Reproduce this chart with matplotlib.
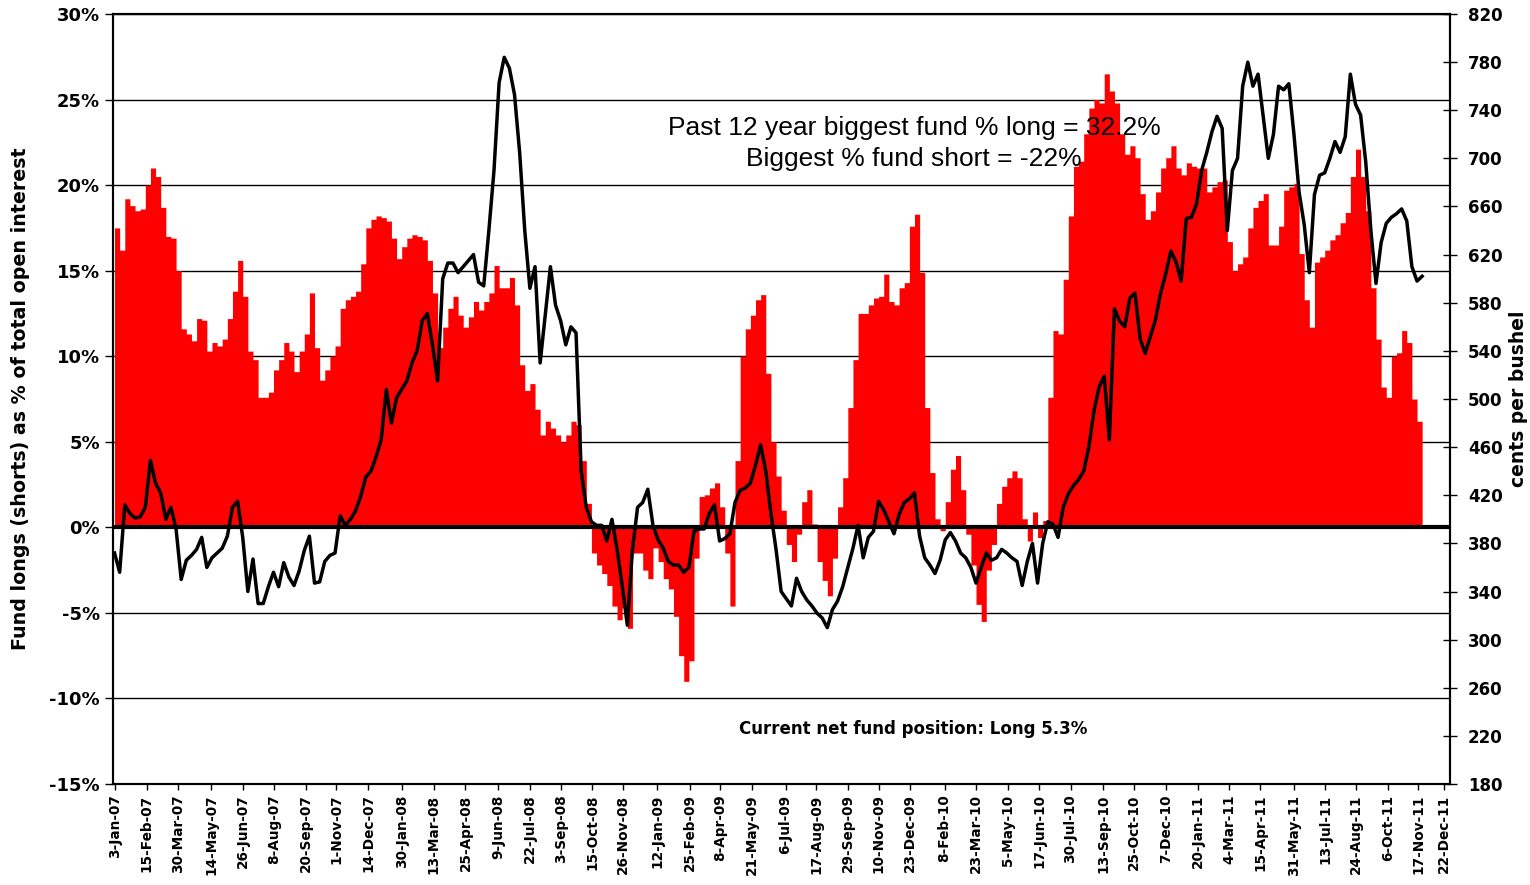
import matplotlib.pyplot as plt
import matplotlib.ticker as mticker
import pandas as pd

plt.rcParams['font.family'] = ['Liberation Sans', 'DejaVu Sans']

# weekly data, first week 2-Jan-2007
week_start = '2007-01-02'

# net fund position, % of open interest (red area)
net_pct = [
    17.5, 16.2, 19.2, 18.8, 18.5, 18.6, 20.0, 21.0, 20.5, 18.7,
    17.0, 16.9, 15.0, 11.6, 11.3, 10.9, 12.2, 12.1, 10.3, 10.8,
    10.6, 11.0, 12.2, 13.8, 15.6, 13.5, 10.3, 9.8, 7.6, 7.6,
    7.9, 9.2, 9.8, 10.8, 10.3, 9.1, 10.3, 11.3, 13.7, 10.5,
    8.6, 9.2, 10.0, 10.6, 12.8, 13.3, 13.5, 13.8, 15.4, 17.5,
    18.0, 18.2, 18.1, 17.9, 16.9, 15.7, 16.4, 16.9, 17.1, 17.0,
    16.8, 15.6, 13.7, 10.5, 11.7, 12.8, 13.5, 12.4, 11.7, 12.3,
    13.2, 12.7, 13.2, 13.7, 15.3, 14.0, 14.0, 14.6, 13.0, 9.5,
    8.0, 8.4, 6.9, 5.4, 6.2, 5.8, 5.4, 5.0, 5.4, 6.2,
    6.0, 3.9, 1.4, -1.5, -2.2, -2.7, -3.4, -4.6, -5.4, -4.7,
    -5.9, -1.5, -1.5, -2.5, -3.0, -1.2, -2.0, -3.0, -3.6, -5.2,
    -7.5, -9.0, -7.8, -1.8, 1.8, 1.9, 2.3, 2.6, 1.2, -1.5,
    -4.6, 3.9, 10.0, 11.6, 12.4, 13.3, 13.6, 9.0, 5.0, 3.0,
    1.0, -1.0, -2.0, -0.4, 1.5, 2.2, 0.2, -2.0, -3.1, -4.0,
    -1.8, 1.2, 2.9, 7.0, 9.8, 12.5, 12.5, 13.0, 13.4, 13.5,
    14.8, 13.2, 13.0, 14.0, 14.3, 17.6, 18.3, 14.9, 7.0, 3.2,
    0.5, -0.2, 1.5, 3.4, 4.2, 2.2, -0.4, -2.2, -4.5, -5.5,
    -2.5, -1.0, 1.4, 2.4, 2.9, 3.3, 2.9, 0.5, -0.8, 0.9,
    -0.6, 0.4, 7.6, 11.5, 11.3, 14.5, 18.2, 21.1, 21.4, 23.0,
    24.5, 25.0, 24.8, 26.5, 25.5, 24.8, 23.0, 21.8, 22.3, 21.6,
    19.5, 18.0, 18.5, 19.6, 21.0, 21.6, 22.3, 21.0, 20.6, 21.3,
    21.1, 21.0, 21.0, 19.6, 19.9, 20.2, 20.3, 16.7, 15.0, 15.4,
    15.8, 17.5, 18.7, 19.1, 19.5, 16.5, 16.5, 17.6, 19.7, 19.9,
    20.1, 16.0, 13.3, 11.7, 15.5, 15.8, 16.2, 16.8, 17.1, 17.8,
    18.4, 20.5, 22.1, 20.5, 18.5, 14.0, 11.0, 8.2, 7.6, 10.0,
    10.2, 11.5, 10.8, 7.5, 6.2, 5.3,
]

# price, cents per bushel (black line)
price = [
    372, 356, 412, 405, 401, 402, 410, 449, 430, 422,
    400, 410, 392, 350, 366, 370, 375, 385, 360, 368,
    372, 376, 386, 410, 415, 385, 340, 367, 330, 330,
    344, 356, 344, 364, 352, 345, 357, 374, 386, 347,
    348, 365, 370, 372, 403, 395, 400, 407, 419, 435,
    440, 452, 466, 508, 480, 501, 508, 515, 530, 540,
    565, 571, 545, 515, 600, 613, 613, 605, 610, 615,
    620, 597, 594, 640, 690, 763, 784, 775, 753, 705,
    640, 592, 610, 530, 570, 610, 578, 565, 545, 560,
    555, 440, 410, 398, 395, 395, 382, 400, 375, 345,
    312, 375, 410, 414, 425, 395, 383, 376, 365, 362,
    362, 356, 360, 390, 392, 392, 405, 412, 382, 384,
    388, 414, 424, 426, 430, 445, 462, 440, 405, 375,
    340, 334, 328, 351, 340, 333, 328, 322, 318, 310,
    325, 332, 344, 360, 376, 395, 368, 385, 390, 415,
    408, 398, 388, 404, 414, 417, 422, 386, 368, 362,
    355, 366, 383, 389, 382, 372, 368, 360, 347, 360,
    372, 366, 368, 375, 372, 368, 365, 345, 365, 380,
    347, 380, 398, 396, 385, 410, 421, 428, 433, 440,
    460, 490, 510, 519, 466, 575, 565, 560, 584, 588,
    550, 538, 552, 566, 588, 604, 623, 614, 598, 650,
    651, 662, 690, 705, 722, 735, 725, 640, 690, 700,
    760, 780, 760, 770, 735, 700, 720, 760, 757, 762,
    720, 672, 645, 605, 670, 686, 688, 700, 714, 705,
    718, 770, 745, 736, 697, 640, 596, 630, 646, 651,
    654, 658, 648, 610, 598, 602,
]

tick_labels = [
    '3-Jan-07', '15-Feb-07', '30-Mar-07', '14-May-07', '26-Jun-07', '8-Aug-07',
    '20-Sep-07', '1-Nov-07', '14-Dec-07', '30-Jan-08', '13-Mar-08', '25-Apr-08',
    '9-Jun-08', '22-Jul-08', '3-Sep-08', '15-Oct-08', '26-Nov-08', '12-Jan-09',
    '25-Feb-09', '8-Apr-09', '21-May-09', '6-Jul-09', '17-Aug-09', '29-Sep-09',
    '10-Nov-09', '23-Dec-09', '8-Feb-10', '23-Mar-10', '5-May-10', '17-Jun-10',
    '30-Jul-10', '13-Sep-10', '25-Oct-10', '7-Dec-10', '20-Jan-11', '4-Mar-11',
    '15-Apr-11', '31-May-11', '13-Jul-11', '24-Aug-11', '6-Oct-11', '17-Nov-11',
    '22-Dec-11',
]

dates = pd.date_range(week_start, periods=len(net_pct), freq='7D')
tick_dates = pd.to_datetime(tick_labels, format='%d-%b-%y')

wide = ['DejaVu Sans']

fig = plt.figure(figsize=(15.3, 8.85), dpi=100)
ax = fig.add_axes([0.0739, 0.1141, 0.8738, 0.8701])

ax.fill_between(dates, net_pct, 0, step='post', color='#ff0000', lw=0, zorder=2)
ax.axhline(0, color='black', lw=3, zorder=3)

ax.set_ylim(-15, 30)
ax.set_yticks(range(-15, 31, 5))
ax.yaxis.set_major_formatter(mticker.FuncFormatter(lambda v, p: f'{v:.0f}%'))
ax.grid(axis='y', color='black', lw=1)
ax.set_axisbelow(True)

ax.set_xlim(pd.Timestamp('2006-12-31'), pd.Timestamp('2011-12-30'))
ax.set_xticks(tick_dates)
ax.set_xticklabels(tick_labels, rotation=90, fontsize=9.8, fontweight='bold', family=wide)
ax.tick_params(axis='x', length=4, width=1)
ax.tick_params(axis='y', labelsize=13, length=6, width=1)
for lbl in ax.get_yticklabels():
    lbl.set_fontweight('bold')
    lbl.set_family(wide)
for s in ax.spines.values():
    s.set_linewidth(1.5)

ax.set_ylabel('Fund longs (shorts) as % of total open interest', fontsize=13.7,
              fontweight='bold', family=wide, va='center')
ax.yaxis.set_label_coords(-0.0696, 0.5)

ax2 = ax.twinx()
ax2.plot(dates, price, color='black', lw=2.5, zorder=5)
ax2.set_ylim(180, 820)
ax2.set_yticks(range(180, 821, 40))
ax2.tick_params(axis='y', labelsize=12, direction='inout', length=10, width=1, pad=8)
for lbl in ax2.get_yticklabels():
    lbl.set_fontweight('bold')
    lbl.set_family(wide)
ax2.set_ylabel('cents per bushel', fontsize=13.5, fontweight='bold', family=wide, va='center')
ax2.yaxis.set_label_coords(1.0509, 0.5)
for s in ax2.spines.values():
    s.set_linewidth(1.5)

ax.text(0.599, 0.8318, 'Past 12 year biggest fund % long = 32.2%\nBiggest % fund short = -22%',
        transform=ax.transAxes, ha='center', va='center', fontsize=19,
        linespacing=1.38, zorder=6)
ax.text(0.5985, 0.0714, 'Current net fund position: Long 5.3%', transform=ax.transAxes,
        ha='center', va='center', fontsize=12, fontweight='bold', family=wide)

fig.savefig('out.png', dpi=100)
